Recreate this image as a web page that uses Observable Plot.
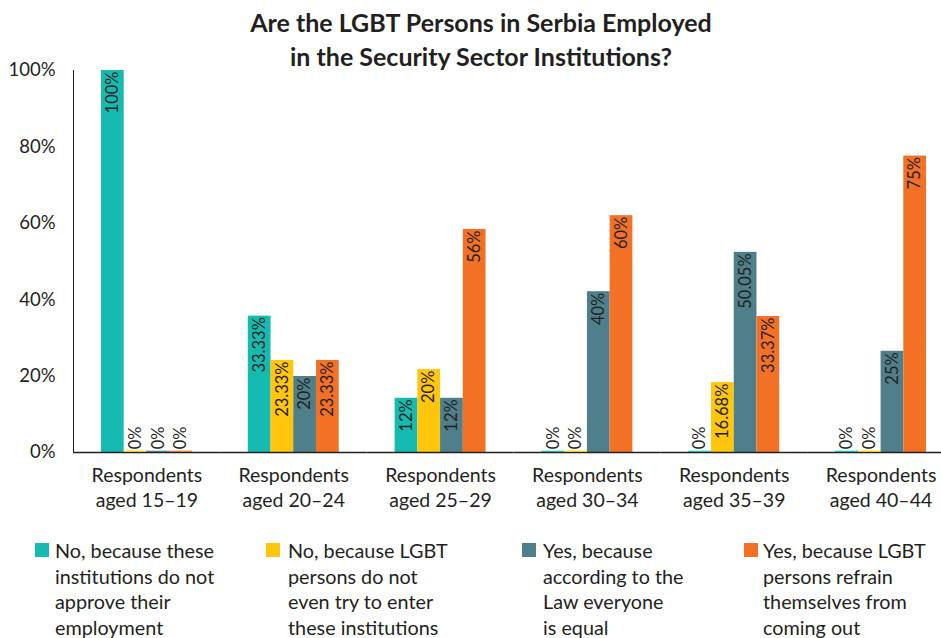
<!DOCTYPE html>
<html>
<head>
<meta charset="utf-8">
<script src="https://cdn.jsdelivr.net/npm/d3@7"></script>
<script src="https://cdn.jsdelivr.net/npm/@observablehq/plot@0.6"></script>
<style>
  html, body { margin: 0; padding: 0; background: #fff; }
  body { width: 941px; height: 638px; overflow: hidden; position: relative; font-family: Lato, "Open Sans", sans-serif; color: #231f20; }
  #title { position: absolute; left: 0; width: 962px; top: 5px; text-align: center; font-weight: 700; font-size: 25px; line-height: 34px; }
  #chart { position: absolute; left: 0; top: 0; }
  .item { position: absolute; top: 538px; font-size: 19.8px; line-height: 25.7px; white-space: pre; }
  .sw { position: absolute; width: 14px; height: 14px; }
</style>
</head>
<body>
<div id="chart"></div>
<div id="title">Are the LGBT Persons in Serbia Employed<br>in the Security Sector Institutions?</div>
<div id="legend"></div>
<script>
// ---- data ----
const ageGroups = ["15–19", "20–24", "25–29", "30–34", "35–39", "40–44"];
const groupLabels = ["Respondents\naged 15–19", "Respondents\naged 20–24", "Respondents\naged 25–29",
                     "Respondents\naged 30–34", "Respondents\naged 35–39", "Respondents\naged 40–44"];
const series = [
  "No, because these institutions do not approve their employment",
  "No, because LGBT persons do not even try to enter these institutions",
  "Yes, because according to the Law everyone is equal",
  "Yes, because LGBT persons refrain themselves from coming out"
];
const legendLines = [
  "No, because these\ninstitutions do not\napprove their\nemployment",
  "No, because LGBT\npersons do not\neven try to enter\nthese institutions",
  "Yes, because\naccording to the\nLaw everyone\nis equal",
  "Yes, because LGBT\npersons refrain\nthemselves from\ncoming out"
];
const colors = ["#15bbb1", "#ffc60b", "#4e7f8b", "#f37125"];

// bar heights as drawn in the picture (percent)
const noApprove   = [100, 35.7, 14.2, 0.3, 0.3, 0.3];
const noTry       = [0.3, 24.1, 21.7, 0.3, 18.3, 0.3];
const yesLaw      = [0.3, 19.9, 14.2, 42.1, 52.4, 26.5];
const yesRefrain  = [0.3, 24.1, 58.4, 62.0, 35.6, 77.6];
// printed value labels
const noApproveLabels  = ["100%", "33.33%", "12%", "0%", "0%", "0%"];
const noTryLabels      = ["0%", "23.33%", "20%", "0%", "16.68%", "0%"];
const yesLawLabels     = ["0%", "20%", "12%", "40%", "50.05%", "25%"];
const yesRefrainLabels = ["0%", "23.33%", "56%", "60%", "33.37%", "75%"];

const yTicks = [0, 20, 40, 60, 80, 100];

// ---- table ----
const valueSets = [noApprove, noTry, yesLaw, yesRefrain];
const labelSets = [noApproveLabels, noTryLabels, yesLawLabels, yesRefrainLabels];
const data = [];
ageGroups.forEach((g, gi) => {
  series.forEach((s, si) => {
    data.push({group: g, series: s, value: valueSets[si][gi], label: labelSets[si][gi]});
  });
});
const zeroLabel = d => d.label === "0%";
const groupText = ageGroups.map((g, i) => ({group: g, text: groupLabels[i]}));

const chart = Plot.plot({
  width: 941,
  height: 515,
  marginTop: 70,
  marginBottom: 63,
  marginLeft: 73,
  marginRight: -13,
  style: {fontFamily: "Lato, 'Open Sans', sans-serif", fontSize: "18.5px", color: "#231f20", background: "transparent", overflow: "visible"},
  fx: {domain: ageGroups, padding: 0, axis: null, label: null, round: false},
  x: {domain: series, paddingInner: 0, paddingOuter: 1.23, axis: null, round: false},
  y: {domain: [0, 100], ticks: yTicks, tickFormat: d => d + "%", tickSize: 0, tickPadding: 18, label: null, line: true},
  color: {domain: series, range: colors},
  marks: [
    Plot.barY(data, {fx: "group", x: "series", y: "value", fill: "series"}),
    Plot.ruleY([0], {stroke: "#231f20", strokeWidth: 1.5}),
    Plot.barY(data.filter(zeroLabel), {fx: "group", x: "series", y1: 0, y2: "value", fill: "series"}),
    Plot.text(data.filter(d => !zeroLabel(d)), {fx: "group", x: "series", y: "value", text: "label", rotate: -90, textAnchor: "end", dy: 1, fontSize: 16.5, fill: "#231f20"}),
    Plot.text(data.filter(zeroLabel), {fx: "group", x: "series", y: "value", text: "label", rotate: -90, textAnchor: "start", dy: -2, fontSize: 16.5, fill: "#231f20"}),
    Plot.text(groupText, {fx: "group", text: "text", frameAnchor: "bottom", lineAnchor: "top", dy: 11, lineHeight: 1.3, fontSize: 19.5, fill: "#231f20"})
  ]
});
document.getElementById("chart").appendChild(chart);

// ---- legend ----
const swX = [35, 266, 522, 744];
const txX = [55, 288, 543, 763];
const legend = document.getElementById("legend");
series.forEach((s, i) => {
  const sw = document.createElement("div");
  sw.className = "sw";
  sw.style.left = swX[i] + "px";
  sw.style.top = "543px";
  sw.style.background = colors[i];
  legend.appendChild(sw);
  const t = document.createElement("div");
  t.className = "item";
  t.style.left = txX[i] + "px";
  t.textContent = legendLines[i];
  legend.appendChild(t);
});
</script>
</body>
</html>
